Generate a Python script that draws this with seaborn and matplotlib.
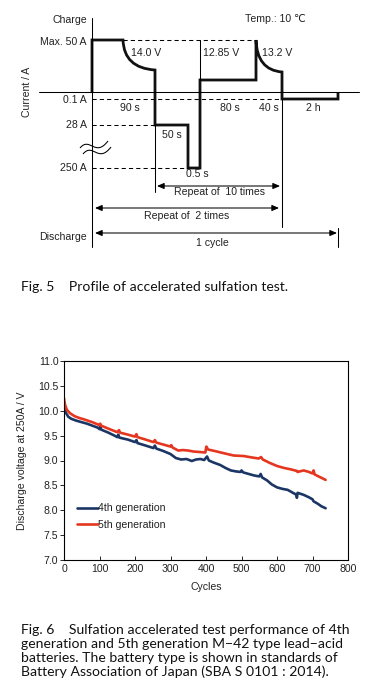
import numpy as np
import pandas as pd
import matplotlib
matplotlib.use("Agg")
import matplotlib.pyplot as plt
from matplotlib.path import Path
from matplotlib.patches import PathPatch
import seaborn as sns

# ---------------- Fig. 6 data ----------------
cycles_4th = [0, 2, 6, 12, 20, 35, 50, 65, 80, 95, 100, 102, 105, 125, 145, 150, 153, 156,
              180, 200, 204, 207, 230, 252, 256, 260, 280, 300, 315, 330, 345, 360, 372,
              384, 395, 403, 408, 421, 440, 455, 470, 485, 497, 500, 505, 520, 535, 550,
              554, 558, 572, 585, 600, 615, 630, 645, 655, 656, 658, 675, 690, 700, 703,
              715, 725, 737]
volt_4th = [10.10, 10.02, 9.95, 9.88, 9.84, 9.80, 9.77, 9.74, 9.70, 9.66, 9.63, 9.68, 9.62,
            9.56, 9.49, 9.47, 9.52, 9.46, 9.42, 9.37, 9.41, 9.35, 9.30, 9.25, 9.30, 9.24,
            9.19, 9.13, 9.05, 9.02, 9.03, 8.99, 9.02, 9.03, 9.01, 9.08, 9.00, 8.96, 8.91,
            8.85, 8.80, 8.78, 8.77, 8.80, 8.76, 8.73, 8.70, 8.68, 8.73, 8.66, 8.60, 8.52,
            8.46, 8.43, 8.41, 8.35, 8.31, 8.25, 8.35, 8.31, 8.26, 8.22, 8.18, 8.13, 8.08,
            8.04]
cycles_5th = [0, 3, 8, 17, 30, 45, 55, 80, 100, 102, 105, 125, 150, 155, 158, 180, 200, 204,
              207, 230, 252, 256, 260, 280, 300, 302, 306, 322, 335, 350, 365, 384, 398,
              401, 406, 425, 454, 478, 506, 530, 549, 555, 560, 580, 600, 620, 640, 656,
              658, 675, 690, 700, 703, 706, 720, 737]
volt_5th = [10.25, 10.12, 10.02, 9.95, 9.89, 9.85, 9.83, 9.77, 9.71, 9.74, 9.70, 9.64, 9.57,
            9.61, 9.56, 9.52, 9.48, 9.53, 9.47, 9.42, 9.37, 9.41, 9.36, 9.32, 9.28, 9.31,
            9.26, 9.20, 9.21, 9.20, 9.18, 9.17, 9.16, 9.28, 9.22, 9.19, 9.14, 9.10, 9.09,
            9.06, 9.04, 9.07, 9.02, 8.95, 8.89, 8.85, 8.82, 8.79, 8.77, 8.80, 8.77, 8.74,
            8.80, 8.72, 8.67, 8.61]
series_names = ["4th generation", "5th generation"]
series_colors = ["#1b3564", "#e5361f"]
x_ticks = [0, 100, 200, 300, 400, 500, 600, 700, 800]
y_ticks = [7.0, 7.5, 8.0, 8.5, 9.0, 9.5, 10.0, 10.5, 11.0]

# ---------------- Fig. 5 schematic labels ----------------
level_labels = ["Max. 50 A", "0.1 A", "28 A", "250 A"]
duration_labels = ["90 s", "80 s", "40 s", "2 h", "50 s", "0.5 s"]
voltage_labels = ["14.0 V", "12.85 V", "13.2 V"]

sns.set_theme(style="ticks")
plt.rcParams["font.family"] = ["Liberation Sans", "DejaVu Sans"]

fig = plt.figure(figsize=(3.76, 7.00), dpi=100)

# background axes in pixel-like schematic units for the Fig. 5 diagram and captions
bg = fig.add_axes([0, 0, 1, 1])
bg.set_xlim(0, 376)
bg.set_ylim(700, 0)
bg.axis("off")

fs = 7.6
tc = "#222222"
thin = 0.75

# axes lines
bg.plot([39, 359], [92, 92], color="black", lw=thin)
bg.plot([92, 92], [18, 247], color="black", lw=thin)
# dashed level lines
dash = dict(color="black", lw=thin, ls=(0, (4, 3)))
bg.plot([123, 256], [40, 40], **dash)
bg.plot([92, 282], [99, 99], **dash)
bg.plot([92, 155], [125, 125], **dash)
bg.plot([92, 188], [168, 168], **dash)
# thin vertical markers
bg.plot([200, 200], [40, 80], color="black", lw=thin)
bg.plot([155, 155], [125, 192], color="black", lw=thin)
bg.plot([282, 282], [99, 227], color="black", lw=thin)
bg.plot([338, 338], [228, 247], color="black", lw=thin)

# thick current profile
verts = [(92, 92), (92, 40), (123, 40), (124, 68), (155, 70), (155, 125), (188, 125),
         (188, 168), (200, 168), (200, 80), (256, 80), (256, 40), (257, 70), (282, 72),
         (282, 99), (338, 99), (338, 92)]
codes = [Path.MOVETO, Path.LINETO, Path.LINETO, Path.CURVE3, Path.CURVE3, Path.LINETO,
         Path.LINETO, Path.LINETO, Path.LINETO, Path.LINETO, Path.LINETO, Path.LINETO,
         Path.CURVE3, Path.CURVE3, Path.LINETO, Path.LINETO, Path.LINETO]
bg.add_patch(PathPatch(Path(verts, codes), fill=False, lw=2.0, edgecolor="#111111",
                       joinstyle="miter", capstyle="butt"))

# axis break symbol
for dx, dy in [(0, 0), (3, 6)]:
    bv = [(80 + dx, 148 + dy), (90 + dx, 136 + dy), (95 + dx, 158 + dy), (108 + dx, 141 + dy)]
    bg.add_patch(PathPatch(Path(bv, [Path.MOVETO, Path.CURVE4, Path.CURVE4, Path.CURVE4]),
                           fill=False, lw=thin, edgecolor="black"))

# double arrows
arr = dict(arrowstyle="<|-|>,head_length=0.35,head_width=0.15", color="black", lw=thin,
           shrinkA=0, shrinkB=0)
bg.annotate("", xy=(157, 186), xytext=(280, 186), arrowprops=arr)
bg.annotate("", xy=(95, 208), xytext=(279, 208), arrowprops=arr)
bg.annotate("", xy=(95, 233), xytext=(337, 233), arrowprops=arr)

# schematic texts
t = dict(fontsize=fs, color=tc, va="center")
bg.text(87, 20, "Charge", ha="right", **t)
bg.text(275, 19, "Temp.: 10 \u2103", ha="center", **t)
for lab, y in zip(level_labels, [42, 100, 125, 168]):
    bg.text(87, y, lab, ha="right", **t)
bg.text(87, 237, "Discharge", ha="right", **t)
bg.text(27, 92, "Current / A", rotation=90, ha="center", **t)
for lab, x in zip(voltage_labels, [131, 203, 262]):
    bg.text(x, 53, lab, ha="left", **t)
for lab, (x, y) in zip(duration_labels, [(130, 108), (230, 108), (269, 108), (313, 108),
                                         (172, 135), (197, 174)]):
    bg.text(x, y, lab, ha="center", **t)
bg.text(219, 192, "Repeat of  10 times", ha="center", **t)
bg.text(187, 216, "Repeat of  2 times", ha="center", **t)
bg.text(212, 243, "1 cycle", ha="center", **t)

# captions
cap = dict(fontsize=10.1, color="#111111", va="center", ha="left", family=["Lato", "DejaVu Sans"])
bg.text(21, 287, "Fig. 5    Profile of accelerated sulfation test.", **cap)
cap_lines = ["Fig. 6    Sulfation accelerated test performance of 4th",
             "generation and 5th generation M\u221242 type lead\u2212acid",
             "batteries. The battery type is shown in standards of",
             "Battery Association of Japan (SBA S 0101 : 2014)."]
for line, y in zip(cap_lines, [630, 644, 658, 672]):
    bg.text(21, y, line, **cap)

# ---------------- Fig. 6 chart ----------------
df = pd.concat([
    pd.DataFrame({"Cycles": cycles_4th, "Voltage": volt_4th, "Series": series_names[0]}),
    pd.DataFrame({"Cycles": cycles_5th, "Voltage": volt_5th, "Series": series_names[1]}),
], ignore_index=True)

ax = fig.add_axes([64 / 376, 1 - 560 / 700, 284 / 376, 199 / 700])
sns.lineplot(data=df, x="Cycles", y="Voltage", hue="Series", hue_order=series_names,
             palette=series_colors, linewidth=1.9, ax=ax, estimator=None, sort=False)
ax.set_xlim(0, 800)
ax.set_ylim(7.0, 11.0)
ax.set_xticks(x_ticks)
ax.set_yticks(y_ticks)
ax.set_xticklabels([str(v) for v in x_ticks])
ax.set_yticklabels([f"{v:.1f}" for v in y_ticks])
ax.tick_params(axis="x", direction="in", length=3, width=0.7, labelsize=7.6, labelcolor=tc, pad=3)
ax.tick_params(axis="y", direction="out", length=3, width=0.7, labelsize=7.6, labelcolor=tc, pad=1)
for s in ax.spines.values():
    s.set_visible(True)
    s.set_linewidth(0.8)
    s.set_color("black")
ax.set_xlabel("Cycles", fontsize=7.6, color=tc, labelpad=6)
ax.set_ylabel("Discharge voltage at 250A / V", fontsize=7.6, color=tc, labelpad=8)
ax.legend(loc="upper left", bbox_to_anchor=(0.045, 0.285), frameon=False, fontsize=7.6,
          handlelength=2.0, handletextpad=0.0, labelspacing=0.65, borderpad=0,
          borderaxespad=0)
for txt in ax.get_legend().get_texts():
    txt.set_color(tc)

fig.savefig("out.png", dpi=100)
